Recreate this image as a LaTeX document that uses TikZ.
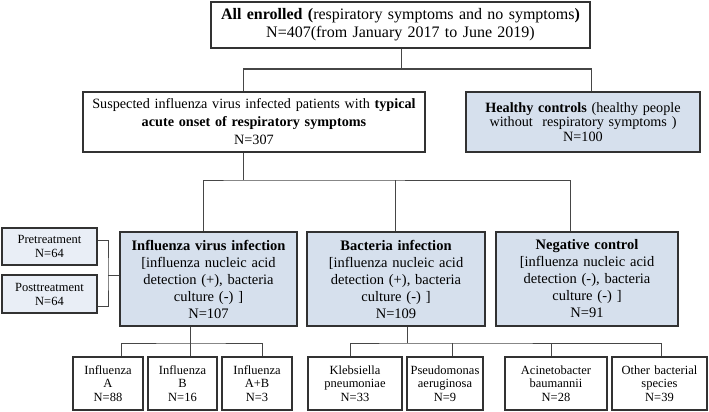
\documentclass[tikz,border=0pt]{standalone}
\usepackage{fontspec}
\setmainfont{Liberation Serif}
\usepackage{xcolor}
\usetikzlibrary{positioning}

\definecolor{boxblue}{RGB}{214,224,237}
\definecolor{paleblue}{RGB}{233,238,246}
\definecolor{edgegray}{RGB}{50,50,50}
\definecolor{linegray}{RGB}{70,70,70}

\begin{document}
\begin{tikzpicture}[x=1pt, y=-1pt,
    box/.style={draw=edgegray, line width=1.2pt, rectangle, align=center,
        inner xsep=2pt, inner ysep=0pt},
    bluebox/.style={box, fill=boxblue},
    sidebox/.style={box, fill=paleblue, font=\fontsize{12.5}{14}\selectfont},
    leafbox/.style={box, fill=white, font=\fontsize{12.5}{13.5}\selectfont,
        minimum height=53pt},
    link/.style={draw=linegray, line width=1pt}]
    \useasboundingbox (0,0) rectangle (709,412);

    % first two rows
    \node[box, minimum width=379pt, minimum height=46pt, text width=375pt,
        font=\fontsize{16}{18}\selectfont] (all) at (400.5,25)
        {\textbf{All enrolled (}respiratory symptoms and no symptoms\textbf{)}\\
         N=407(from January 2017 to June 2019)};
    \node[box, minimum width=342pt, minimum height=60pt, text width=338pt,
        font=\fontsize{14.2}{18}\selectfont] (suspected) at (254,122)
        {Suspected influenza virus infected patients with \textbf{typical}\\
         \textbf{acute onset of respiratory symptoms}\\ N=307};
    \node[bluebox, minimum width=234pt, minimum height=60pt, text width=230pt,
        font=\fontsize{14.2}{14.5}\selectfont] (healthy) at (583,122)
        {\textbf{Healthy controls} (healthy people\\
         without\ \ respiratory symptoms )\\ N=100};

    % groups
    \node[bluebox, minimum width=177pt, minimum height=94pt, text width=173pt,
        font=\fontsize{14.5}{17}\selectfont] (influenza) at (208.5,279)
        {\textbf{Influenza virus infection}\\ {[}influenza nucleic acid\\
         detection (+), bacteria\\ culture (-) ]\\ N=107};
    \node[bluebox, minimum width=178pt, minimum height=94pt, text width=174pt,
        font=\fontsize{14.5}{17}\selectfont] (bacteria) at (396,279)
        {\textbf{Bacteria infection}\\ {[}influenza nucleic acid\\
         detection (+), bacteria\\ culture (-) ]\\ N=109};
    \node[bluebox, minimum width=182pt, minimum height=94pt, text width=178pt,
        font=\fontsize{14.5}{17}\selectfont] (negative) at (587,279)
        {\textbf{Negative control}\\ {[}influenza nucleic acid\\
         detection (-), bacteria\\ culture (-) ]\\ N=91};

    \node[sidebox, minimum width=95pt, minimum height=37pt, text width=91pt]
        (pre) at (49.5,246.5) {Pretreatment\\ N=64};
    \node[sidebox, minimum width=95pt, minimum height=38pt, text width=91pt]
        (post) at (49.5,294) {Posttreatment\\ N=64};

    % subtypes and species
    \node[leafbox, minimum width=70pt, text width=66pt] (fluA) at (108,383.5)
        {Influenza\\ A\\ N=88};
    \node[leafbox, minimum width=69pt, text width=65pt] (fluB) at (182.5,383.5)
        {Influenza\\ B\\ N=16};
    \node[leafbox, minimum width=70pt, text width=66pt] (fluAB) at (257,383.5)
        {Influenza\\ A+B\\ N=3};
    \node[leafbox, minimum width=94pt, text width=90pt] (kleb) at (355,383.5)
        {Klebsiella\\ pneumoniae\\ N=33};
    \node[leafbox, minimum width=76pt, text width=72pt] (pseudo) at (445,383.5)
        {Pseudomonas\\ aeruginosa\\ N=9};
    \node[leafbox, minimum width=102pt, text width=98pt] (acineto) at (556,383.5)
        {Acinetobacter\\ baumannii\\ N=28};
    \node[leafbox, minimum width=95pt, text width=91pt] (other) at (659.5,383.5)
        {Other bacterial\\ species\\ N=39};

    % connectors
    \coordinate (j1) at (401,69);
    \coordinate (j2) at (243,180);
    \coordinate (j3) at (190,343);
    \coordinate (j4) at (407,343);
    \coordinate (brk) at (108,275);

    \draw[link] ([xshift=0.5pt]all.south) -- (j1);
    \draw[link] ([xshift=-11pt]suspected.north) |- (j1) -| ([xshift=8pt]healthy.north);
    \draw[link] ([xshift=-11pt]suspected.south) -- (j2);
    \draw[link] ([xshift=-5.5pt]influenza.north) |- (j2) -| ([xshift=-17pt]negative.north);
    \draw[link] ([xshift=-1pt]bacteria.north) -- ([xshift=-1pt]bacteria.north |- j2);

    \draw[link] ([yshift=6pt]pre.east) -| (brk) |- ([yshift=-12pt]post.east);
    \draw[link] (brk) -- (influenza.west |- brk);

    \draw[link] ([xshift=-18.5pt]influenza.south) -- (j3);
    \draw[link] ([xshift=13pt]fluA.north) |- (j3) -| ([xshift=5pt]fluAB.north);
    \draw[link] ([xshift=7.5pt]fluB.north) -- ([xshift=7.5pt]fluB.north |- j3);

    \draw[link] ([xshift=11pt]bacteria.south) -- (j4);
    \draw[link] ([xshift=-5pt]kleb.north) |- (j4) -| ([xshift=1.5pt]other.north);
    \draw[link] ([xshift=7pt]pseudo.north) -- ([xshift=7pt]pseudo.north |- j4);
    \draw[link] ([xshift=-5pt]acineto.north) -- ([xshift=-5pt]acineto.north |- j4);
\end{tikzpicture}
\end{document}
